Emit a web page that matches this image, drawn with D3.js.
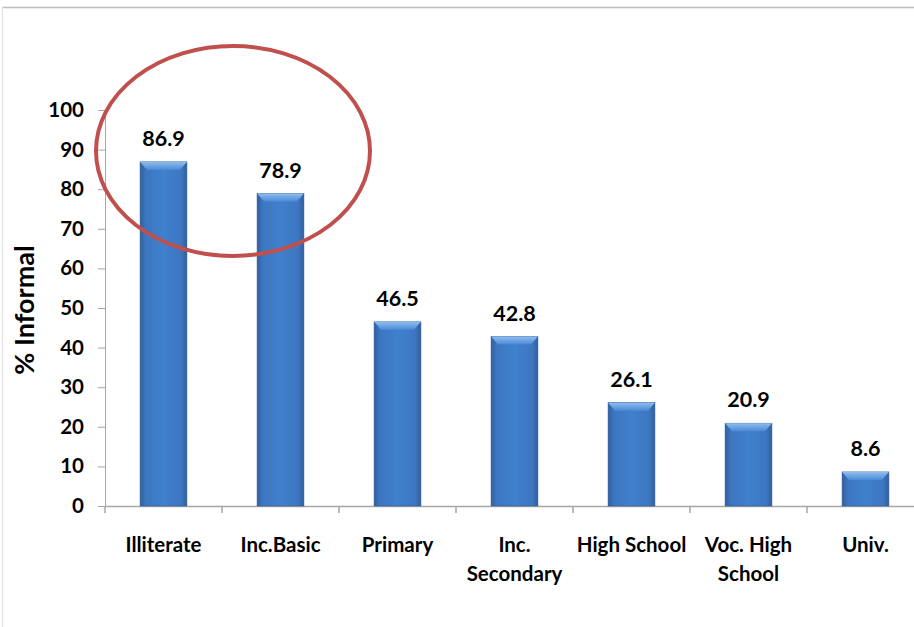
<!DOCTYPE html>
<html lang="en">
<head>
    <meta charset="UTF-8">
    <title>% Informal by education</title>
    <style>
        body { margin: 0; background: #fff; }
        text { font-family: Lato, "Open Sans", sans-serif; font-weight: bold; fill: #000; }
    </style>
    <script src="https://cdn.jsdelivr.net/npm/d3@7"></script>
</head>
<body>
<svg width="914" height="627"></svg>

<script>
    // values
    const categories = ["Illiterate", "Inc.Basic", "Primary", "Inc. Secondary", "High School", "Voc. High School", "Univ."];
    const labelLines = [["Illiterate"], ["Inc.Basic"], ["Primary"], ["Inc.", "Secondary"], ["High School"], ["Voc. High", "School"], ["Univ."]];
    const informal = [86.9, 78.9, 46.5, 42.8, 26.1, 20.9, 8.6];
    const yTicks = [0, 10, 20, 30, 40, 50, 60, 70, 80, 90, 100];

    let svg = d3.select("svg");

    // chart frame (only top and left edge show in the reference)
    svg.append("line").attr("x1", 2).attr("x2", 914).attr("y1", 7.5).attr("y2", 7.5)
        .attr("stroke", "#bdbdbd").attr("stroke-width", 1.5);
    svg.append("line").attr("x1", 2.5).attr("x2", 2.5).attr("y1", 7).attr("y2", 627)
        .attr("stroke", "#dedede").attr("stroke-width", 1);

    const x = d3.scaleBand().domain(categories).range([105, 924]).paddingInner(0.6).paddingOuter(0.3);
    const y = d3.scaleLinear().domain([0, 100]).range([506, 110]);

    // bar fills
    let defs = svg.append("defs");
    let g1 = defs.append("linearGradient").attr("id", "barFill").attr("x1", 0).attr("x2", 1).attr("y1", 0).attr("y2", 0);
    g1.append("stop").attr("offset", "0%").attr("stop-color", "#2f5f9e");
    g1.append("stop").attr("offset", "12%").attr("stop-color", "#3d76c0");
    g1.append("stop").attr("offset", "50%").attr("stop-color", "#4080cc");
    g1.append("stop").attr("offset", "88%").attr("stop-color", "#3d76c0");
    g1.append("stop").attr("offset", "100%").attr("stop-color", "#2f5f9e");
    let g2 = defs.append("linearGradient").attr("id", "bevelFill").attr("x1", 0).attr("x2", 0).attr("y1", 0).attr("y2", 1);
    g2.append("stop").attr("offset", "0%").attr("stop-color", "#8fbdf0");
    g2.append("stop").attr("offset", "100%").attr("stop-color", "#4a8ad6");

    // axes
    let yAxis = svg.append("g").attr("transform", "translate(105,0)")
        .call(d3.axisLeft(y).tickValues(yTicks).tickSize(7).tickPadding(14));
    yAxis.select(".domain").attr("stroke", "#a6a6a6");
    yAxis.selectAll(".tick line").attr("stroke", "#a6a6a6");
    yAxis.selectAll(".tick text").style("font-size", "20.5px").attr("fill", "#000");

    let xAxis = svg.append("g").attr("transform", "translate(0,506)")
        .call(d3.axisBottom(x).tickSize(0).tickFormat(""));
    xAxis.select(".domain").attr("stroke", "#a6a6a6").attr("stroke-width", 1.5);
    // category boundary ticks
    xAxis.selectAll(".sep").data(categories).enter().append("line").attr("class", "sep")
        .attr("x1", d => x(d) - x.step() * x.paddingInner() / 2)
        .attr("x2", d => x(d) - x.step() * x.paddingInner() / 2)
        .attr("y1", 0).attr("y2", 7).attr("stroke", "#a6a6a6").attr("stroke-width", 1.5);

    // category labels
    svg.append("g").selectAll("text").data(categories).enter().append("text")
        .attr("text-anchor", "middle")
        .style("font-size", "20.5px")
        .attr("transform", d => `translate(${x(d) + x.bandwidth() / 2},552)`)
        .each(function (d, i) {
            d3.select(this).selectAll("tspan").data(labelLines[i]).enter().append("tspan")
                .attr("x", 0).attr("dy", (t, j) => j === 0 ? 0 : 29).text(t => t);
        });

    // bars
    let bars = svg.append("g").selectAll("g").data(categories).enter().append("g");
    bars.append("rect")
        .attr("x", d => x(d))
        .attr("y", (d, i) => y(informal[i]))
        .attr("width", x.bandwidth())
        .attr("height", (d, i) => y(0) - y(informal[i]))
        .attr("fill", "url(#barFill)")
        .attr("stroke", "#2e5b94").attr("stroke-width", 0.6);
    bars.append("path")
        .attr("d", (d, i) => {
            let x0 = x(d), x1 = x(d) + x.bandwidth(), top = y(informal[i]);
            return `M${x0},${top}L${x1},${top}L${x1 - 7},${top + 8}L${x0 + 7},${top + 8}Z`;
        })
        .attr("fill", "url(#bevelFill)");

    // value labels
    svg.append("g").selectAll("text").data(categories).enter().append("text")
        .attr("text-anchor", "middle")
        .style("font-size", "21.5px")
        .attr("x", d => x(d) + x.bandwidth() / 2)
        .attr("y", (d, i) => y(informal[i]) - 16)
        .text((d, i) => informal[i].toFixed(1));

    // y axis title
    svg.append("text")
        .attr("transform", "translate(34,310)rotate(-90)")
        .attr("text-anchor", "middle")
        .style("font-size", "27px")
        .text("% Informal");

    // highlight ellipse round the first two bars
    svg.append("ellipse")
        .attr("cx", 233).attr("cy", 151).attr("rx", 137).attr("ry", 105)
        .attr("fill", "none").attr("stroke", "#c0504d").attr("stroke-width", 4);
</script>
</body>
</html>
